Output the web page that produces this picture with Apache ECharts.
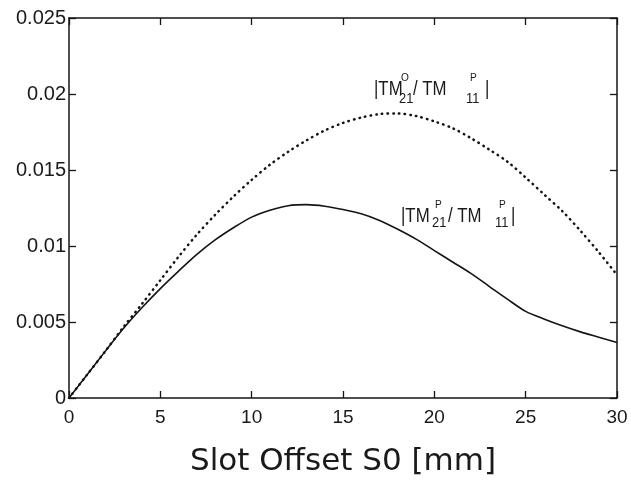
<!DOCTYPE html>
<html>
<head>
<meta charset="utf-8">
<script src="https://cdn.jsdelivr.net/npm/echarts@6/dist/echarts.min.js"></script>
<style>
  html, body { margin: 0; padding: 0; background: #ffffff; }
  #chart { width: 631px; height: 482px; }
</style>
</head>
<body>
<div id="chart"></div>
<script>
// Slot offset S0 in mm
var slotOffset = [0, 1, 2, 3, 4, 5, 6, 7, 8, 9, 10, 11, 12, 13, 14, 15,
                  16, 17, 18, 19, 20, 21, 22, 23, 24, 25, 26, 27, 28, 29, 30];

// |TM21(P) / TM11(P)|  (solid curve)
var ratioP = [0, 0.00155, 0.0031, 0.0046, 0.00595, 0.0072, 0.00835, 0.00945,
              0.0104, 0.0112, 0.0119, 0.01235, 0.01265, 0.01272, 0.01262, 0.0124,
              0.01212, 0.01168, 0.0111, 0.01045, 0.0097, 0.00895, 0.0082, 0.00735,
              0.0065, 0.0057, 0.0052, 0.00475, 0.00435, 0.004, 0.00365];

// |TM21(O) / TM11(P)|  (dotted curve)
var ratioO = [0, 0.00155, 0.0031, 0.0047, 0.0062, 0.00775, 0.0093, 0.01075,
              0.01205, 0.01325, 0.01435, 0.01535, 0.0162, 0.01695, 0.0176, 0.0181,
              0.01845, 0.01868, 0.01872, 0.01855, 0.0182, 0.01775, 0.0171, 0.01635,
              0.01555, 0.0145, 0.0134, 0.0123, 0.011, 0.0096, 0.0081];

var xTicks = { min: 0, max: 30, step: 5 };
var yTicks = { min: 0, max: 0.025, step: 0.005 };

function pairs(xs, ys) {
  return xs.map(function (x, i) { return [x, ys[i]]; });
}

// Curve annotation built from pieces: base text, superscript, subscript
function annotation(pieces) {
  return pieces.map(function (p) {
    return {
      type: 'text',
      x: p.x,
      y: p.y,
      scaleX: p.s > 16 ? 0.84 : 0.92,
      style: {
        text: p.t,
        fontFamily: 'Liberation Sans, Arial, sans-serif',
        fontSize: p.s,
        fill: '#1a1a1a',
        align: 'left',
        verticalAlign: 'middle'
      }
    };
  });
}

var labelO = annotation([
  { t: '|TM', x: 374, y: 89, s: 20 },
  { t: 'O', x: 401, y: 78, s: 11 },
  { t: '21', x: 399, y: 99, s: 14 },
  { t: '/ TM', x: 413, y: 89, s: 20 },
  { t: 'P', x: 470, y: 78, s: 11 },
  { t: '11', x: 466, y: 99, s: 14 },
  { t: '|', x: 485, y: 89, s: 20 }
]);

var labelP = annotation([
  { t: '|TM', x: 401, y: 216, s: 20 },
  { t: 'P', x: 435, y: 205, s: 11 },
  { t: '21', x: 432, y: 223, s: 14 },
  { t: '/ TM', x: 448, y: 216, s: 20 },
  { t: 'P', x: 499, y: 205, s: 11 },
  { t: '11', x: 495, y: 223, s: 14 },
  { t: '|', x: 511, y: 216, s: 20 }
]);

var ink = '#141414';
var tickStyle = { show: true, inside: true, length: 7, lineStyle: { color: ink, width: 1.3 } };
var lineStyleAxis = { show: true, onZero: false, lineStyle: { color: ink, width: 1.5 } };

var chart = echarts.init(document.getElementById('chart'), null, { renderer: 'canvas' });
chart.setOption({
  backgroundColor: '#ffffff',
  animation: false,
  grid: { left: 69, right: 14, top: 18, bottom: 74 },
  xAxis: [{
    type: 'value',
    min: xTicks.min, max: xTicks.max, interval: xTicks.step,
    name: 'Slot Offset S0 [mm]',
    nameLocation: 'middle',
    nameGap: 48,
    nameTextStyle: { fontFamily: 'DejaVu Sans', fontSize: 31, color: '#1a1a1a' },
    axisLine: lineStyleAxis,
    axisTick: tickStyle,
    splitLine: { show: false },
    axisLabel: { fontFamily: 'Liberation Sans, Arial, sans-serif', fontSize: 19, color: '#1a1a1a', margin: 10 }
  }, {
    type: 'value', position: 'top',
    min: xTicks.min, max: xTicks.max, interval: xTicks.step,
    axisLine: lineStyleAxis, axisTick: tickStyle,
    axisLabel: { show: false }, splitLine: { show: false }
  }],
  yAxis: [{
    type: 'value',
    min: yTicks.min, max: yTicks.max, interval: yTicks.step,
    axisLine: lineStyleAxis,
    axisTick: tickStyle,
    splitLine: { show: false },
    axisLabel: { fontFamily: 'Liberation Sans, Arial, sans-serif', fontSize: 20, color: '#1a1a1a', margin: 3 }
  }, {
    type: 'value', position: 'right',
    min: yTicks.min, max: yTicks.max, interval: yTicks.step,
    axisLine: lineStyleAxis, axisTick: tickStyle,
    axisLabel: { show: false }, splitLine: { show: false }
  }],
  series: [{
    type: 'line',
    name: '|TM21P/TM11P|',
    data: pairs(slotOffset, ratioP),
    showSymbol: false,
    smooth: 0.3,
    lineStyle: { color: ink, width: 1.6 }
  }, {
    type: 'line',
    name: '|TM21O/TM11P|',
    data: pairs(slotOffset, ratioO),
    showSymbol: false,
    smooth: 0.3,
    lineStyle: { color: ink, width: 2.5, type: [0.5, 5.2], cap: 'round' }
  }],
  graphic: labelO.concat(labelP)
});
</script>
</body>
</html>
